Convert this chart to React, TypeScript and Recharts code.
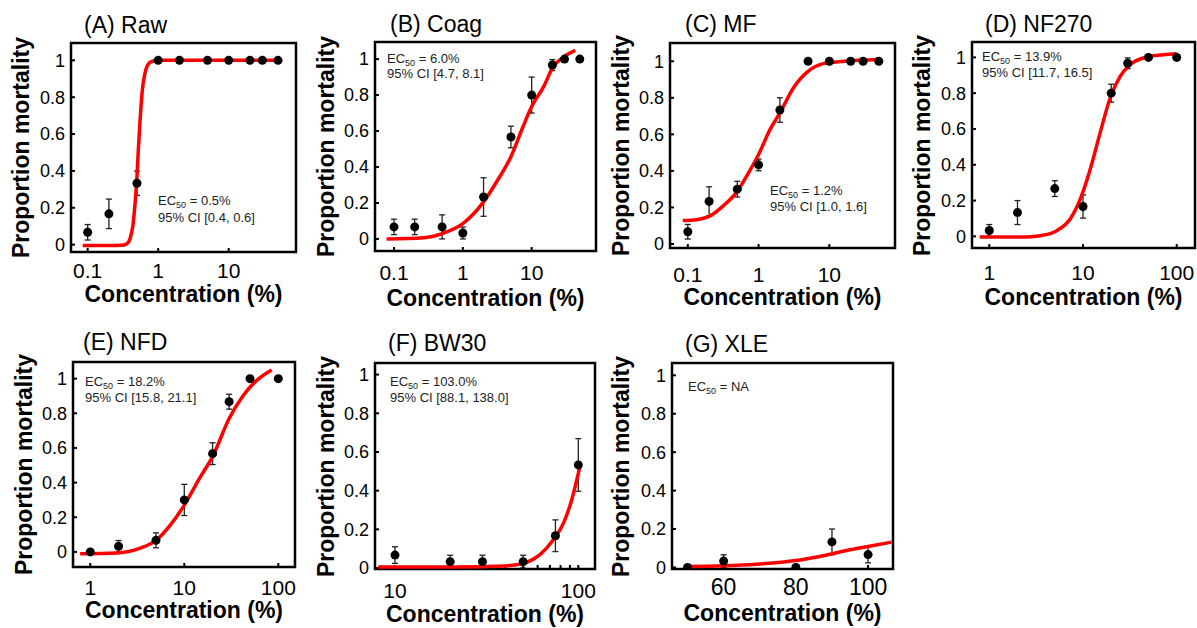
import { ScatterChart, Scatter, XAxis, YAxis, ErrorBar, ReferenceArea } from 'recharts'

// (A) Raw
const rawConc = [0.1, 0.2, 0.5, 1, 2, 5, 10, 20, 30, 50]
const rawMort = [0.067, 0.167, 0.333, 1, 1, 1, 1, 1, 1, 1]
const rawErr = [0.042, 0.08, 0.066, 0, 0, 0, 0, 0, 0, 0]
const rawFitConc = [0.085, 0.2, 0.3, 0.36, 0.4, 0.44, 0.48, 0.5, 0.52, 0.55, 0.6, 0.65, 0.7, 0.8, 1, 2, 50]
const rawFitMort = [-0.005, -0.005, -0.004, 0.005, 0.035, 0.11, 0.27, 0.37, 0.5, 0.66, 0.85, 0.93, 0.97, 0.993, 1, 1, 1]

// (B) Coag
const coagConc = [0.1, 0.2, 0.5, 1, 2, 5, 10, 20, 30, 50]
const coagMort = [0.067, 0.067, 0.067, 0.033, 0.233, 0.567, 0.8, 0.967, 1, 1]
const coagErr = [0.043, 0.043, 0.067, 0.033, 0.107, 0.06, 0.1, 0.03, 0, 0]
const coagFitConc = [0.078, 0.27, 0.5, 1, 2, 3.1, 5, 7.5, 10, 15, 20, 30, 43]
const coagFitMort = [0, 0.007, 0.03, 0.085, 0.206, 0.318, 0.457, 0.625, 0.736, 0.848, 0.95, 1.015, 1.048]

// (C) MF
const mfConc = [0.1, 0.2, 0.5, 1, 2, 5, 10, 20, 30, 50]
const mfMort = [0.067, 0.233, 0.3, 0.433, 0.733, 1, 1, 1, 1, 1]
const mfErr = [0.04, 0.08, 0.043, 0.032, 0.067, 0, 0, 0, 0, 0]
const mfFitConc = [0.085, 0.134, 0.2, 0.32, 0.5, 0.72, 1, 1.45, 2, 3.1, 5, 8.2, 16, 50]
const mfFitMort = [0.128, 0.133, 0.151, 0.21, 0.288, 0.389, 0.49, 0.626, 0.717, 0.854, 0.945, 0.987, 1.0, 1.01]

// (D) NF270
const nf270Conc = [1, 2, 5, 10, 20, 30, 50, 100]
const nf270Mort = [0.033, 0.133, 0.267, 0.167, 0.8, 0.967, 1, 1]
const nf270Err = [0.033, 0.067, 0.044, 0.065, 0.05, 0.03, 0, 0]
const nf270FitConc = [0.79, 2.3, 3.5, 5.25, 7.3, 9.3, 11.9, 15.2, 19.5, 24.9, 31.8, 48, 72, 100]
const nf270FitMort = [-0.004, -0.004, 0.004, 0.032, 0.097, 0.205, 0.372, 0.577, 0.773, 0.894, 0.959, 1.002, 1.015, 1.02]

// (E) NFD
const nfdConc = [1, 2, 5, 10, 20, 30, 50, 100]
const nfdMort = [0, 0.033, 0.067, 0.3, 0.567, 0.867, 1, 1]
const nfdErr = [0, 0.033, 0.043, 0.09, 0.063, 0.043, 0, 0]
const nfdFitConc = [0.78, 1.9, 3.4, 5, 7.1, 10, 14.7, 20, 30, 42, 59, 85]
const nfdFitMort = [-0.01, -0.006, 0.022, 0.067, 0.155, 0.27, 0.43, 0.55, 0.77, 0.9, 0.99, 1.05]

// (F) BW30
const bw30Conc = [10, 20, 30, 50, 75, 100]
const bw30Mort = [0.067, 0.033, 0.033, 0.033, 0.167, 0.533]
const bw30Err = [0.043, 0.033, 0.033, 0.033, 0.082, 0.136]
const bw30FitConc = [8.1, 21.7, 36, 46, 52.3, 61.8, 73, 83, 92, 102]
const bw30FitMort = [0.005, 0.005, 0.009, 0.017, 0.029, 0.069, 0.146, 0.232, 0.352, 0.524]

// (G) XLE
const xleConc = [50, 60, 80, 90, 100]
const xleMort = [0, 0.033, 0, 0.133, 0.067]
const xleErr = [0, 0.033, 0, 0.067, 0.043]
const xleFitConc = [50, 60, 69, 80, 87.6, 95, 100, 106.5]
const xleFitMort = [0.005, 0.009, 0.017, 0.036, 0.061, 0.092, 0.109, 0.132]

const yTicks = [0, 0.2, 0.4, 0.6, 0.8, 1]
const ticksTenth = [0.1, 1, 10]
const ticksUnit = [1, 10, 100]
const ticksBw30 = [10, 20, 30, 40, 50, 60, 70, 80, 90, 100]
const labelsBw30 = [10, 100]
const ticksXle = [60, 80, 100]

const FONT = '"Liberation Sans", Arial, Helvetica, sans-serif'
const Y_AXIS_W = 60
const PAD = 4
const X_AXIS_H = 50

interface PanelSpec {
  title: string
  ec50: string
  ci?: string
  conc: number[]
  mort: number[]
  err: number[]
  fitConc: number[]
  fitMort: number[]
  box: [number, number, number, number]
  xDomain: [number, number]
  yDomain: [number, number]
  log: boolean
  xTicks: number[]
  xLabels?: number[]
  xTickFont: number
  tickY: number
  titleX: number
  titleY: number
  yLabelX: number
  xLabelY: number
  note: [number, number, number]
}

const panels: PanelSpec[] = [
  {
    title: '(A) Raw', ec50: '0.5%', ci: '95% CI [0.4, 0.6]',
    conc: rawConc, mort: rawMort, err: rawErr, fitConc: rawFitConc, fitMort: rawFitMort,
    box: [71, 43, 296, 252], xDomain: [0.058, 90], yDomain: [-0.04, 1.094], log: true,
    xTicks: ticksTenth, xTickFont: 21, tickY: 270,
    titleX: 84, titleY: 25, yLabelX: 22, xLabelY: 294, note: [158, 200, 217],
  },
  {
    title: '(B) Coag', ec50: '6.0%', ci: '95% CI [4.7, 8.1]',
    conc: coagConc, mort: coagMort, err: coagErr, fitConc: coagFitConc, fitMort: coagFitMort,
    box: [375, 42, 596, 251], xDomain: [0.053, 86], yDomain: [-0.067, 1.095], log: true,
    xTicks: ticksTenth, xTickFont: 21, tickY: 272,
    titleX: 390, titleY: 24, yLabelX: 327, xLabelY: 298, note: [387, 58.5, 73.5],
  },
  {
    title: '(C) MF', ec50: '1.2%', ci: '95% CI [1.0, 1.6]',
    conc: mfConc, mort: mfMort, err: mfErr, fitConc: mfFitConc, fitMort: mfFitMort,
    box: [670, 43, 895, 248], xDomain: [0.056, 84.7], yDomain: [-0.022, 1.1], log: true,
    xTicks: ticksTenth, xTickFont: 21, tickY: 274,
    titleX: 685, titleY: 24, yLabelX: 622, xLabelY: 297, note: [770, 190, 206],
  },
  {
    title: '(D) NF270', ec50: '13.9%', ci: '95% CI [11.7, 16.5]',
    conc: nf270Conc, mort: nf270Mort, err: nf270Err, fitConc: nf270FitConc, fitMort: nf270FitMort,
    box: [972, 42, 1195, 248], xDomain: [0.654, 156.7], yDomain: [-0.065, 1.086], log: true,
    xTicks: ticksUnit, xTickFont: 21, tickY: 272,
    titleX: 985, titleY: 24, yLabelX: 923, xLabelY: 297, note: [982, 56, 72],
  },
  {
    title: '(E) NFD', ec50: '18.2%', ci: '95% CI [15.8, 21.1]',
    conc: nfdConc, mort: nfdMort, err: nfdErr, fitConc: nfdFitConc, fitMort: nfdFitMort,
    box: [73, 362, 295, 567], xDomain: [0.655, 150.5], yDomain: [-0.087, 1.096], log: true,
    xTicks: ticksUnit, xTickFont: 21, tickY: 587,
    titleX: 83, titleY: 342, yLabelX: 25, xLabelY: 610, note: [85, 381, 397],
  },
  {
    title: '(F) BW30', ec50: '103.0%', ci: '95% CI [88.1, 138.0]',
    conc: bw30Conc, mort: bw30Mort, err: bw30Err, fitConc: bw30FitConc, fitMort: bw30FitMort,
    box: [375, 363, 595, 569], xDomain: [7.78, 123.3], yDomain: [-0.005, 1.06], log: true,
    xTicks: ticksBw30, xLabels: labelsBw30, xTickFont: 21, tickY: 590,
    titleX: 388, titleY: 343, yLabelX: 327, xLabelY: 614, note: [390, 381, 397],
  },
  {
    title: '(G) XLE', ec50: 'NA',
    conc: xleConc, mort: xleMort, err: xleErr, fitConc: xleFitConc, fitMort: xleFitMort,
    box: [672, 363, 893, 569], xDomain: [45.7, 106.9], yDomain: [-0.008, 1.064], log: false,
    xTicks: ticksXle, xTickFont: 23, tickY: 587,
    titleX: 685, titleY: 344, yLabelX: 622, xLabelY: 613, note: [688, 386, 0],
  },
]

const Dot = (props: any) => <circle cx={props.cx} cy={props.cy} r={4.5} fill="#000" />
const NoMark = () => <g />

function Panel({ p }: { p: PanelSpec }) {
  const [l, t, r, b] = p.box
  const points = p.conc.map((x, i) => ({ x, y: p.mort[i], err: p.err[i] }))
  const fit = p.fitConc.map((x, i) => ({ x, y: p.fitMort[i] }))
  const xTickMargin = p.tickY - b + 4 - 0.352 * p.xTickFont
  const fmtX = (v: number) => (!p.xLabels || p.xLabels.includes(v) ? String(v) : '')
  const plotH = b - t
  const abs = { position: 'absolute' as const, whiteSpace: 'nowrap' as const }

  return (
    <>
      <div style={{ ...abs, left: l - Y_AXIS_W, top: t - PAD }}>
        <ScatterChart
          width={r - l + Y_AXIS_W + PAD}
          height={plotH + PAD + X_AXIS_H}
          margin={{ top: PAD, right: PAD, left: 0, bottom: 0 }}
        >
          <XAxis
            type="number"
            dataKey="x"
            scale={p.log ? 'log' : 'linear'}
            domain={p.xDomain}
            allowDataOverflow
            ticks={p.xTicks}
            interval={0}
            tickFormatter={fmtX}
            height={X_AXIS_H}
            axisLine={false}
            tickSize={-4}
            tickMargin={xTickMargin}
            tickLine={{ stroke: '#000', strokeWidth: 2 }}
            tick={{ fontSize: p.xTickFont, fill: '#000' }}
          />
          <YAxis
            type="number"
            dataKey="y"
            domain={p.yDomain}
            allowDataOverflow
            ticks={yTicks}
            interval={0}
            tickFormatter={(v: number) => String(v)}
            width={Y_AXIS_W}
            axisLine={false}
            tickSize={-4}
            tickMargin={10}
            tickLine={{ stroke: '#000', strokeWidth: 2 }}
            tick={{ fontSize: 18, fill: '#000' }}
          />
          <Scatter
            data={fit}
            fill="#ff0000"
            line={{ stroke: '#ff0000', strokeWidth: 3.5 }}
            lineJointType="monotoneX"
            shape={NoMark}
            isAnimationActive={false}
          />
          <Scatter data={points} fill="#000" shape={Dot} isAnimationActive={false}>
            <ErrorBar dataKey="err" direction="y" width={3} stroke="#222" strokeWidth={1.3} />
          </Scatter>
          <ReferenceArea
            x1={p.xDomain[0]}
            x2={p.xDomain[1]}
            y1={p.yDomain[0]}
            y2={p.yDomain[1]}
            fill="none"
            stroke="#000"
            strokeWidth={2.5}
            ifOverflow="visible"
          />
        </ScatterChart>
      </div>

      <div style={{ ...abs, left: p.titleX, top: p.titleY - 11.3, fontSize: 23, lineHeight: '23px' }}>
        {p.title}
      </div>
      <div
        style={{
          ...abs,
          left: p.yLabelX - 151,
          top: (t + b) / 2 - 11.5,
          width: 300,
          height: 23,
          lineHeight: '23px',
          fontSize: 23,
          fontWeight: 700,
          textAlign: 'center',
          transform: 'rotate(-90deg)',
        }}
      >
        Proportion mortality
      </div>
      <div
        style={{
          ...abs,
          left: (l + r) / 2 - 150,
          top: p.xLabelY - 11.3,
          width: 300,
          textAlign: 'center',
          fontSize: 23,
          fontWeight: 700,
          lineHeight: '23px',
        }}
      >
        Concentration (%)
      </div>

      <div style={{ ...abs, left: p.note[0], top: p.note[1] - 6.4, fontSize: 13, lineHeight: '13px', color: '#222' }}>
        EC<span style={{ fontSize: 9, position: 'relative', top: 3 }}>50</span> = {p.ec50}
      </div>
      {p.ci && (
        <div style={{ ...abs, left: p.note[0], top: p.note[2] - 6.4, fontSize: 13, lineHeight: '13px', color: '#222' }}>
          {p.ci}
        </div>
      )}
    </>
  )
}

export default function App() {
  return (
    <div
      style={{
        position: 'absolute',
        left: 0,
        top: 0,
        width: 1197,
        height: 628,
        overflow: 'hidden',
        background: '#fff',
        fontFamily: FONT,
        color: '#000',
      }}
    >
      {panels.map((p) => (
        <Panel key={p.title} p={p} />
      ))}
    </div>
  )
}
